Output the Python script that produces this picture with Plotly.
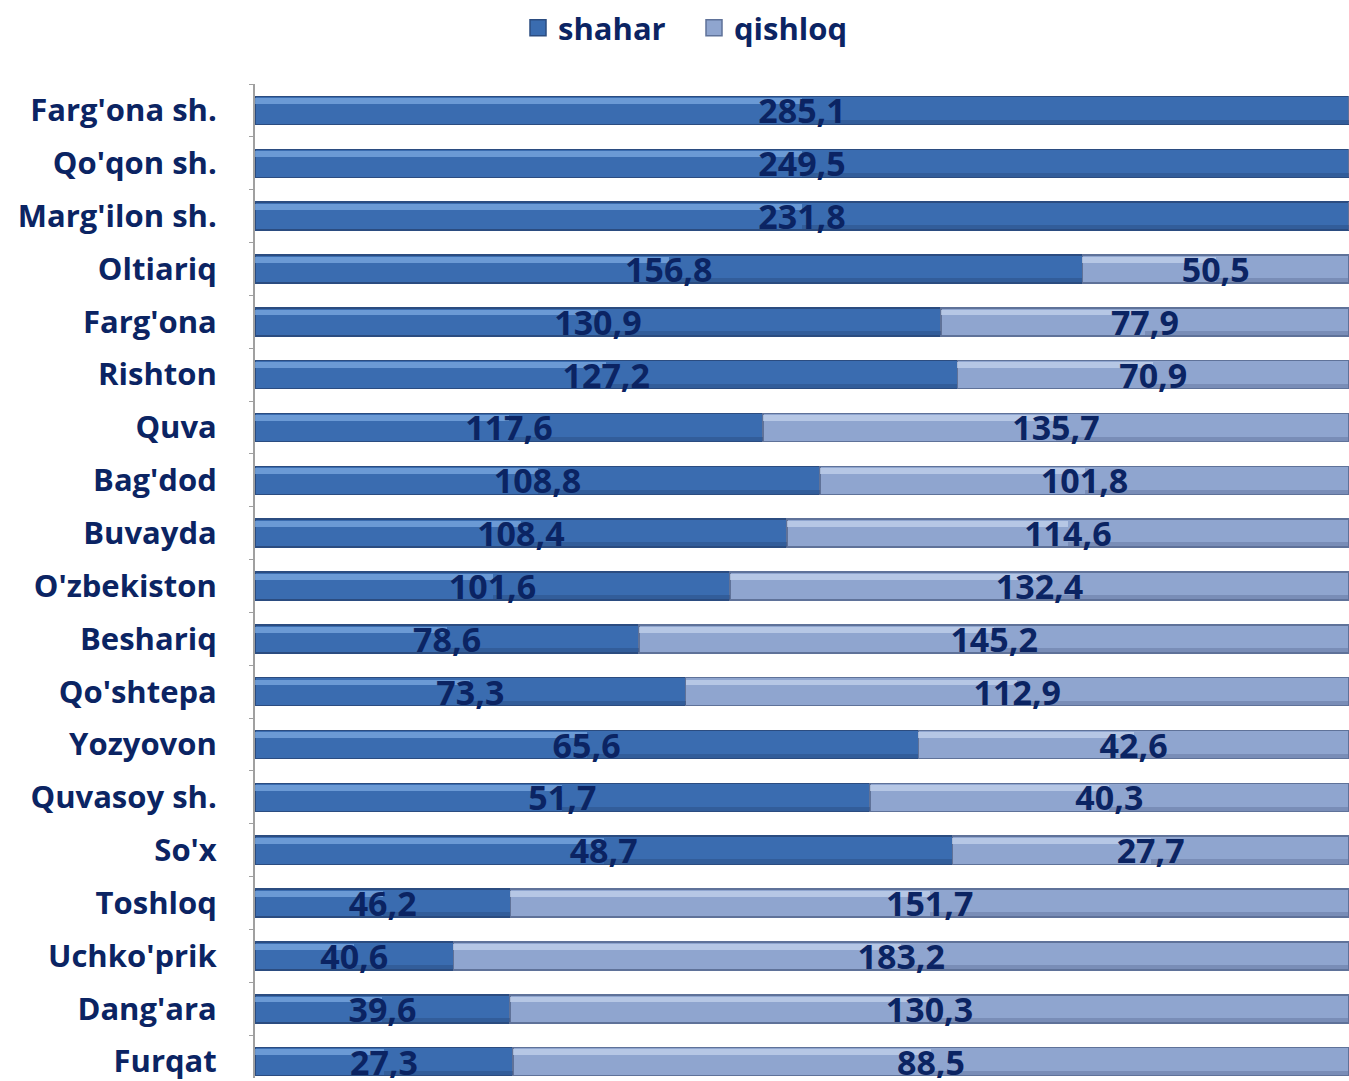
import plotly.graph_objects as go

categories = ["Farg'ona sh.", "Qo'qon sh.", "Marg'ilon sh.", "Oltiariq", "Farg'ona",
              "Rishton", "Quva", "Bag'dod", "Buvayda", "O'zbekiston", "Beshariq",
              "Qo'shtepa", "Yozyovon", "Quvasoy sh.", "So'x", "Toshloq", "Uchko'prik",
              "Dang'ara", "Furqat"]
shahar = [285.1, 249.5, 231.8, 156.8, 130.9, 127.2, 117.6, 108.8, 108.4, 101.6,
          78.6, 73.3, 65.6, 51.7, 48.7, 46.2, 40.6, 39.6, 27.3]
qishloq = [0, 0, 0, 50.5, 77.9, 70.9, 135.7, 101.8, 114.6, 132.4,
           145.2, 112.9, 42.6, 40.3, 27.7, 151.7, 183.2, 130.3, 88.5]

def fmt(v):
    return "" if not v else f"{v:.1f}".replace(".", ",")

FONT = "Open Sans, Lato, sans-serif"
NAVY = "#0B2463"
BARW = 0.53

series = [
    ("shahar", shahar, "#3A6CB0", "#80AEE6", "#2B4C80"),
    ("qishloq", qishloq, "#8FA5CF", "#C6D5EE", "#5F7299"),
]

fig = go.Figure()
# base bars
for name, vals, col, hi, dark in series:
    fig.add_trace(go.Bar(
        y=categories, x=vals, name=name, orientation="h", width=BARW,
        marker=dict(color=col, line=dict(color=dark, width=1.5)),
        xaxis="x", yaxis="y", showlegend=False,
    ))
# highlight strips (gradient imitation)
for name, vals, col, hi, dark in series:
    fig.add_trace(go.Bar(
        y=categories, x=vals, name=name + " hl", orientation="h",
        width=0.11, offset=-BARW / 2 + 0.035,
        marker=dict(color=hi, line=dict(width=0), opacity=0.7),
        xaxis="x2", yaxis="y2", showlegend=False, hoverinfo="skip",
    ))
    fig.add_trace(go.Bar(
        y=categories, x=vals, name=name + " sh", orientation="h",
        width=0.08, offset=BARW / 2 - 0.09,
        marker=dict(color=dark, line=dict(width=0), opacity=0.45),
        xaxis="x2", yaxis="y2", showlegend=False, hoverinfo="skip",
    ))
# text layer
for name, vals, col, hi, dark in series:
    fig.add_trace(go.Bar(
        y=categories, x=vals, name=name + " txt", orientation="h", width=BARW,
        marker=dict(color="rgba(0,0,0,0)", line=dict(width=0)),
        text=[fmt(v) for v in vals], textposition="inside",
        insidetextanchor="middle", constraintext="none",
        textfont=dict(family=FONT, size=34, color=NAVY, weight="bold"),
        xaxis="x3", yaxis="y3", showlegend=False, hoverinfo="skip",
    ))
# legend entries
for name, vals, col, hi, dark in series:
    fig.add_trace(go.Scatter(
        x=[None], y=[None], mode="markers", name=name,
        marker=dict(symbol="square", size=20, color=col, line=dict(color=dark, width=1.5)),
        xaxis="x", yaxis="y", showlegend=True,
    ))

yrange = [18.31, -0.5]
fig.update_layout(
    width=1349, height=1081,
    margin=dict(l=255, r=0, t=84, b=0),
    barmode="stack", barnorm="percent",
    plot_bgcolor="white", paper_bgcolor="white",
    showlegend=True,
    legend=dict(orientation="h", xref="container", yref="container",
                x=518 / 1349, xanchor="left", y=0.974, yanchor="middle",
                entrywidth=131, entrywidthmode="pixels",
                font=dict(family=FONT, size=31, color=NAVY, weight="bold"),
                itemsizing="trace", traceorder="normal"),
    xaxis=dict(visible=False, range=[0, 100]),
    xaxis2=dict(visible=False, range=[0, 100], overlaying="x"),
    xaxis3=dict(visible=False, range=[0, 100], overlaying="x"),
    yaxis=dict(autorange=False, range=yrange, showline=True,
               linecolor="#A0A0A0", linewidth=2,
               ticks="outside", tickson="boundaries", ticklen=4, tickcolor="#A0A0A0",
               ticklabelstandoff=30,
               tickfont=dict(family=FONT, size=31, color=NAVY, weight="bold"),
               showgrid=False, zeroline=False),
    yaxis2=dict(autorange=False, range=yrange, overlaying="y", visible=False),
    yaxis3=dict(autorange=False, range=yrange, overlaying="y", visible=False),
)

fig.write_html("out.html", config={"displayModeBar": False},
               post_script="document.body.style.margin='0';")
